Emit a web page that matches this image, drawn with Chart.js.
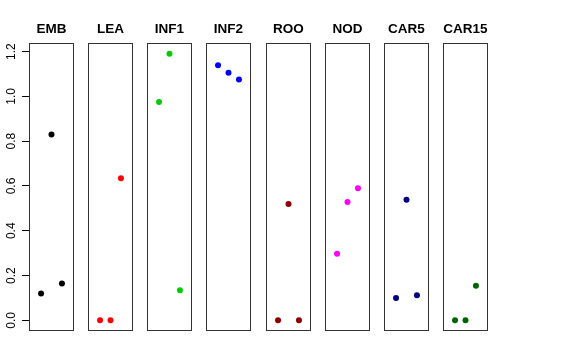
<!DOCTYPE html>
<html>
<head>
<meta charset="utf-8">
<script src="https://cdn.jsdelivr.net/npm/chart.js@4/dist/chart.umd.min.js"></script>
<style>
  body { margin: 0; background: #fff; }
  #wrap { position: relative; width: 576px; height: 360px; overflow: hidden; }
  #wrap canvas { position: absolute; top: 0; }
</style>
</head>
<body>
<div id="wrap"></div>
<script>
// Panel names and values
const panels = ['EMB', 'LEA', 'INF1', 'INF2', 'ROO', 'NOD', 'CAR5', 'CAR15'];
const positions = [1, 2, 3];
const emb = [0.12, 0.83, 0.165];
const lea = [0.0, 0.0, 0.634];
const inf1 = [0.975, 1.191, 0.134];
const inf2 = [1.139, 1.106, 1.075];
const roo = [0.0, 0.519, 0.0];
const nod = [0.297, 0.529, 0.590];
const car5 = [0.100, 0.538, 0.112];
const car15 = [0.0, 0.0, 0.155];
const yTicks = [0.0, 0.2, 0.4, 0.6, 0.8, 1.0, 1.2];

const series = [emb, lea, inf1, inf2, roo, nod, car5, car15];
const colors = ['#000000', '#ff0000', '#00cd00', '#0000ff', '#8b0000', '#ff00ff', '#000080', '#006400'];

// box around each panel
const frame = {
  id: 'frame',
  afterDraw(chart) {
    const a = chart.chartArea;
    const ctx = chart.ctx;
    ctx.save();
    ctx.strokeStyle = '#333';
    ctx.lineWidth = 1;
    const l = Math.round(a.left) + 0.5, t = Math.round(a.top) + 0.5;
    const r = Math.round(a.right) - 0.5, b = Math.round(a.bottom) - 0.5;
    ctx.strokeRect(l, t, r - l, b - t);
    ctx.restore();
  }
};

const wrap = document.getElementById('wrap');
const axisW = 29;
const panelW = 45;
const step = 59.14;

panels.forEach(function(name, i) {
  const first = i === 0;
  const canvas = document.createElement('canvas');
  const left = first ? 0 : Math.round(axisW + i * step) - 5;
  const width = first ? axisW + panelW + 5 : panelW + 10;
  canvas.width = width;
  canvas.height = 360;
  canvas.style.left = left + 'px';
  canvas.style.width = width + 'px';
  canvas.style.height = '360px';
  wrap.appendChild(canvas);

  const yAxis = {
    type: 'linear',
    min: -0.0476,
    max: 1.2376,
    display: first,
    afterBuildTicks: function(scale) { scale.ticks = yTicks.map(v => ({ value: v })); },
    border: { display: false },
    grid: { drawOnChartArea: false, drawTicks: true, tickLength: 7, color: '#000' },
    ticks: {
      minRotation: 90,
      maxRotation: 90,
      crossAlign: 'center',
      padding: 2,
      color: '#000',
      font: { family: 'Liberation Sans, Arial, sans-serif', size: 12 },
      callback: v => v.toFixed(1)
    }
  };
  if (first) yAxis.afterFit = function(scale) { scale.width = axisW; };

  new Chart(canvas.getContext('2d'), {
    type: 'scatter',
    data: {
      datasets: [{
        data: positions.map((p, k) => ({ x: p, y: series[i][k] })),
        backgroundColor: colors[i],
        borderColor: colors[i],
        pointRadius: 3,
        borderWidth: 0
      }]
    },
    options: {
      responsive: false,
      animation: false,
      devicePixelRatio: 1,
      layout: { padding: { left: first ? 0 : 5, right: 5, top: 0, bottom: 29 } },
      scales: {
        x: { type: 'linear', min: -0.15, max: 4.15, display: false },
        y: yAxis
      },
      plugins: {
        legend: { display: false },
        tooltip: { enabled: false },
        title: {
          display: true,
          text: name,
          fullSize: !first,
          color: '#000',
          padding: { top: 21, bottom: 6 },
          font: { family: 'Liberation Sans, Arial, sans-serif', size: 13.5, weight: 'bold', lineHeight: 1.2 }
        }
      }
    },
    plugins: [frame]
  });
});
</script>
</body>
</html>
